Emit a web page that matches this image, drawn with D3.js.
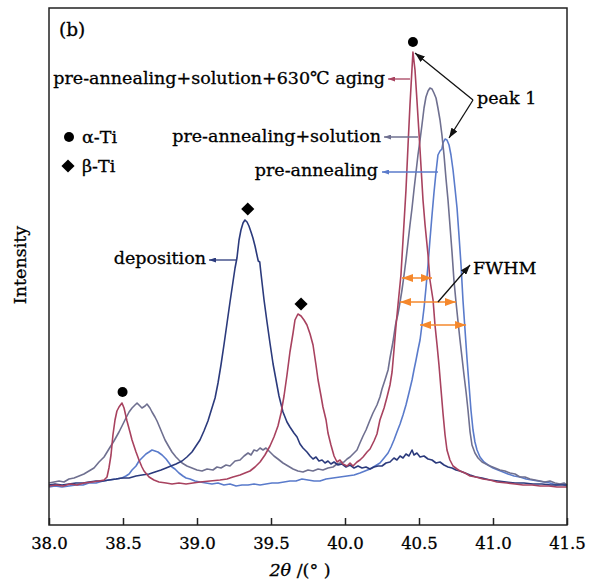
<!DOCTYPE html>
<html>
<head>
<meta charset="utf-8">
<script src="https://cdn.jsdelivr.net/npm/d3@7"></script>
<style>
  body { margin: 0; background: #fff; }
  text { font-family: "DejaVu Serif", serif; fill: #000; stroke: #000; stroke-width: 0.3px; }
</style>
</head>
<body>
<svg id="chart" width="589" height="580"></svg>
<script>
// X-ray diffraction patterns, 2θ (degrees) vs intensity (a.u.)
const xTicks = [38.0, 38.5, 39.0, 39.5, 40.0, 40.5, 41.0, 41.5];

const deposition = [
  [38.000,40],[38.041,41],[38.088,40],[38.135,41],[38.182,42],[38.230,42],[38.270,43],[38.318,44],
  [38.365,44],[38.405,45],[38.453,46],[38.493,47],[38.541,47],[38.588,49],[38.628,50],[38.676,51],
  [38.716,53],[38.757,55],[38.791,57],[38.824,59],[38.858,61],[38.899,64],[38.932,68],[38.966,73],
  [38.993,79],[39.020,85],[39.047,94],[39.074,104],[39.101,117],[39.122,127],[39.142,142],[39.162,160],
  [39.182,180],[39.203,202],[39.223,223],[39.243,243],[39.257,257],[39.270,267],[39.284,285],[39.297,295],
  [39.311,302],[39.324,305],[39.338,303],[39.351,299],[39.365,293],[39.378,287],[39.392,279],[39.405,270],
  [39.414,264],[39.424,263],[39.432,252],[39.453,225],[39.473,203],[39.493,182],[39.514,161],[39.534,145],
  [39.554,129],[39.581,113],[39.608,103],[39.628,98],[39.655,92],[39.676,88],[39.696,81],[39.716,77],
  [39.743,73],[39.764,69],[39.784,66],[39.804,68],[39.824,64],[39.845,65],[39.865,62],[39.885,64],
  [39.905,61],[39.926,63],[39.953,60],[39.980,61],[40.007,58],[40.034,60],[40.061,57],[40.088,59],
  [40.115,57],[40.142,58],[40.169,56],[40.196,58],[40.223,59],[40.250,59],[40.277,62],[40.304,63],
  [40.331,67],[40.351,65],[40.372,69],[40.392,67],[40.412,71],[40.432,69],[40.453,75],[40.466,70],
  [40.486,72],[40.507,68],[40.534,69],[40.561,66],[40.588,65],[40.615,62],[40.642,63],[40.669,60],
  [40.696,58],[40.723,57],[40.750,55],[40.777,54],[40.811,52],[40.845,50],[40.885,48],[40.926,47],
  [40.980,45],[41.034,44],[41.088,43],[41.149,42],[41.209,42],[41.270,41],[41.331,41],[41.392,40],
  [41.453,40],[41.500,40]
];

const preAnnealing = [
  [38.000,38],[38.041,39],[38.088,38],[38.135,39],[38.182,40],[38.230,40],[38.270,42],[38.318,42],
  [38.365,44],[38.405,45],[38.453,46],[38.493,47],[38.520,49],[38.541,51],[38.561,55],[38.588,59],
  [38.608,64],[38.628,67],[38.655,71],[38.676,73],[38.696,75],[38.716,74],[38.736,73],[38.764,70],
  [38.791,66],[38.811,62],[38.831,58],[38.851,56],[38.878,52],[38.905,49],[38.926,47],[38.953,46],
  [38.986,44],[39.020,43],[39.061,42],[39.101,41],[39.142,42],[39.182,40],[39.223,41],[39.264,39],
  [39.304,40],[39.345,40],[39.385,41],[39.426,40],[39.466,41],[39.507,42],[39.547,42],[39.588,43],
  [39.628,44],[39.669,44],[39.709,46],[39.750,45],[39.791,44],[39.831,44],[39.872,46],[39.919,47],
  [39.966,48],[40.014,49],[40.061,50],[40.101,52],[40.135,54],[40.169,56],[40.203,59],[40.236,62],
  [40.264,67],[40.291,72],[40.311,78],[40.331,85],[40.351,93],[40.372,101],[40.392,110],[40.412,120],
  [40.432,132],[40.453,145],[40.466,155],[40.480,165],[40.493,175],[40.507,185],[40.520,200],[40.534,217],
  [40.547,237],[40.561,260],[40.574,285],[40.588,310],[40.601,332],[40.615,353],[40.628,370],[40.642,374],
  [40.655,376],[40.662,382],[40.676,386],[40.689,385],[40.703,380],[40.716,370],[40.730,355],[40.743,337],
  [40.757,317],[40.770,290],[40.784,260],[40.797,225],[40.811,195],[40.824,167],[40.838,140],[40.851,115],
  [40.865,95],[40.878,83],[40.892,75],[40.912,68],[40.939,63],[40.966,60],[41.000,57],[41.034,55],
  [41.068,53],[41.101,51],[41.142,49],[41.182,48],[41.223,46],[41.264,45],[41.304,44],[41.345,43],
  [41.385,42],[41.426,40],[41.466,41],[41.500,39]
];

const preAnnealingSolution = [
  [38.000,42],[38.034,43],[38.068,44],[38.101,43],[38.135,46],[38.169,47],[38.203,49],[38.236,51],
  [38.270,54],[38.304,57],[38.338,63],[38.372,68],[38.405,76],[38.439,84],[38.473,93],[38.500,101],
  [38.520,107],[38.541,113],[38.561,117],[38.581,120],[38.595,122],[38.615,119],[38.628,117],[38.649,119],
  [38.662,121],[38.682,117],[38.696,113],[38.716,108],[38.730,104],[38.750,97],[38.764,92],[38.784,85],
  [38.811,78],[38.831,73],[38.858,68],[38.878,65],[38.899,62],[38.932,59],[38.966,57],[39.000,55],
  [39.034,54],[39.068,56],[39.108,55],[39.135,58],[39.162,57],[39.196,60],[39.223,59],[39.257,64],
  [39.291,65],[39.318,69],[39.345,72],[39.365,70],[39.385,75],[39.405,74],[39.426,77],[39.446,75],
  [39.466,77],[39.493,73],[39.520,69],[39.547,66],[39.581,62],[39.615,59],[39.649,56],[39.682,54],
  [39.716,53],[39.750,55],[39.784,54],[39.818,56],[39.851,55],[39.885,57],[39.919,58],[39.946,61],
  [39.966,62],[39.993,63],[40.014,66],[40.034,68],[40.061,72],[40.081,75],[40.101,82],[40.122,89],
  [40.142,95],[40.169,105],[40.189,112],[40.216,120],[40.236,128],[40.250,136],[40.270,145],[40.291,155],
  [40.304,167],[40.324,183],[40.338,197],[40.345,203],[40.358,211],[40.372,223],[40.385,235],[40.399,250],
  [40.412,265],[40.426,283],[40.439,300],[40.453,317],[40.466,335],[40.480,353],[40.493,370],[40.507,385],
  [40.520,400],[40.534,417],[40.547,428],[40.561,434],[40.574,437],[40.588,436],[40.601,432],[40.615,427],
  [40.628,417],[40.642,405],[40.655,390],[40.669,370],[40.682,347],[40.696,325],[40.709,300],[40.723,273],
  [40.736,245],[40.750,223],[40.764,203],[40.777,185],[40.791,167],[40.804,150],[40.818,133],[40.831,115],
  [40.845,93],[40.858,80],[40.878,72],[40.899,67],[40.926,63],[40.953,61],[40.980,59],[41.014,57],
  [41.047,55],[41.081,54],[41.115,52],[41.149,51],[41.182,48],[41.216,48],[41.250,46],[41.284,45],
  [41.318,44],[41.351,43],[41.385,44],[41.419,42],[41.453,41],[41.480,42],[41.500,40]
];

const aging630 = [
  [38.000,39],[38.047,40],[38.095,39],[38.142,41],[38.189,40],[38.236,42],[38.291,43],[38.338,44],
  [38.372,45],[38.392,48],[38.405,57],[38.419,70],[38.432,90],[38.446,105],[38.459,114],[38.473,118],
  [38.493,122],[38.507,117],[38.527,104],[38.547,93],[38.561,85],[38.588,73],[38.608,65],[38.628,58],
  [38.642,54],[38.676,48],[38.709,45],[38.743,43],[38.791,42],[38.831,41],[38.878,42],[38.926,41],
  [38.973,42],[39.020,43],[39.088,44],[39.155,45],[39.203,46],[39.243,48],[39.291,50],[39.324,52],
  [39.358,54],[39.392,58],[39.426,63],[39.459,70],[39.493,79],[39.520,88],[39.547,99],[39.568,112],
  [39.588,129],[39.608,150],[39.628,173],[39.649,192],[39.662,205],[39.682,211],[39.703,209],[39.723,205],
  [39.743,200],[39.764,191],[39.784,180],[39.804,160],[39.818,145],[39.838,129],[39.851,118],[39.872,105],
  [39.885,92],[39.905,80],[39.926,69],[39.946,63],[39.966,65],[39.986,61],[40.014,59],[40.034,62],
  [40.054,59],[40.081,63],[40.101,65],[40.122,68],[40.149,73],[40.169,76],[40.196,84],[40.216,91],
  [40.236,105],[40.264,117],[40.284,128],[40.304,140],[40.318,153],[40.331,175],[40.345,200],[40.358,220],
  [40.378,250],[40.392,285],[40.412,335],[40.426,380],[40.439,420],[40.453,457],[40.459,473],[40.473,455],
  [40.486,425],[40.507,375],[40.527,325],[40.541,300],[40.561,270],[40.574,245],[40.595,225],[40.608,200],
  [40.622,180],[40.635,160],[40.649,135],[40.662,112],[40.676,90],[40.689,75],[40.709,65],[40.730,59],
  [40.757,56],[40.777,54],[40.811,52],[40.845,49],[40.885,48],[40.932,46],[40.980,45],[41.027,43],
  [41.095,42],[41.149,41],[41.203,40],[41.264,40],[41.318,39],[41.378,39],[41.432,38],[41.500,38]
];

// phase markers: α-Ti (dot) and β-Ti (diamond) above the identified peaks
const alphaPeaks = [[38.497, 133], [40.459, 483]];
const betaPeaks = [[39.343, 316], [39.703, 221]];

const seriesLabels = ["pre-annealing", "pre-annealing+solution", "deposition", "pre-annealing+solution+630℃ aging"];
const seriesColors = ["#5a7bcb", "#6f7090", "#2b3a7c", "#a8425f"];
const seriesData = [preAnnealing, preAnnealingSolution, deposition, aging630];

const svg = d3.select("#chart");
const plot = { left: 49, top: 8, right: 567, bottom: 525 };

const x = d3.scaleLinear().domain([38.0, 41.5]).range([plot.left, plot.right]);
const y = d3.scaleLinear().domain([0, 517]).range([plot.bottom, plot.top]);

// arrowhead markers
const defs = svg.append("defs");
function arrowMarker(id, color, len, wid) {
  defs.append("marker")
    .attr("id", id)
    .attr("viewBox", `0 0 ${len} ${wid}`)
    .attr("refX", len).attr("refY", wid / 2)
    .attr("markerWidth", len).attr("markerHeight", wid)
    .attr("markerUnits", "userSpaceOnUse")
    .attr("orient", "auto-start-reverse")
    .append("path")
    .attr("d", `M0,0L${len},${wid / 2}L0,${wid}Z`)
    .attr("fill", color);
}
seriesColors.forEach((c, i) => arrowMarker("ah" + i, c, 7, 5));
arrowMarker("ahBlack", "#111", 10, 7);
arrowMarker("ahOrange", "#f5882c", 11, 8);

// curves
const line = d3.line().x(d => x(d[0])).y(d => y(d[1]));
svg.append("g").selectAll("path")
  .data(seriesData)
  .join("path")
  .attr("d", line)
  .attr("fill", "none")
  .attr("stroke", (d, i) => seriesColors[i])
  .attr("stroke-width", 1.6)
  .attr("stroke-linejoin", "round");

// frame
svg.append("rect")
  .attr("x", plot.left).attr("y", plot.top)
  .attr("width", plot.right - plot.left).attr("height", plot.bottom - plot.top)
  .attr("fill", "none").attr("stroke", "#222").attr("stroke-width", 1.5);

// bottom axis, ticks pointing inward
const xAxis = d3.axisBottom(x).tickValues(xTicks).tickFormat(d3.format(".1f"))
  .tickSize(-7).tickPadding(12);
const gx = svg.append("g").attr("transform", `translate(0,${plot.bottom})`).call(xAxis);
gx.select(".domain").remove();
gx.selectAll(".tick line").attr("stroke", "#222").attr("stroke-width", 1.5);
gx.selectAll(".tick text").attr("font-family", "DejaVu Serif").attr("font-size", 16.5).attr("fill", "#000");

// axis titles
const xt = svg.append("text").attr("x", 300).attr("y", 576).attr("text-anchor", "middle").attr("font-size", 17.5);
xt.append("tspan").attr("font-style", "italic").text("2θ");
xt.append("tspan").text(" /(°  )");
svg.append("text")
  .attr("transform", "translate(26,265) rotate(-90)")
  .attr("text-anchor", "middle").attr("font-size", 17.5)
  .text("Intensity");

// panel tag
svg.append("text").attr("x", 59).attr("y", 36).attr("font-size", 18.5).text("(b)");

// phase markers
const diamond = d3.symbol().type(d3.symbolDiamond2).size(110);
svg.append("g").selectAll("circle").data(alphaPeaks).join("circle")
  .attr("cx", d => x(d[0])).attr("cy", d => y(d[1])).attr("r", 5).attr("fill", "#000");
svg.append("g").selectAll("path").data(betaPeaks).join("path")
  .attr("d", diamond).attr("transform", d => `translate(${x(d[0])},${y(d[1])})`).attr("fill", "#000");

// legend for phase markers
const legend = svg.append("g");
legend.append("circle").attr("cx", 69).attr("cy", 137).attr("r", 5).attr("fill", "#000");
legend.append("text").attr("x", 82).attr("y", 143).attr("font-size", 17.5).text("α-Ti");
legend.append("path").attr("d", diamond).attr("transform", "translate(68,166)").attr("fill", "#000");
legend.append("text").attr("x", 82).attr("y", 172).attr("font-size", 17.5).text("β-Ti");

// series labels with leader arrows (anchor positions in data units)
const seriesNotes = [
  { s: 3, textX: 40.270, textI: 441, from: 40.439, to: 40.291, lineI: 446 },
  { s: 1, textX: 40.243, textI: 383, from: 40.493, to: 40.264, lineI: 388 },
  { s: 0, textX: 40.223, textI: 349, from: 40.628, to: 40.250, lineI: 353 },
  { s: 2, textX: 39.061, textI: 261, from: 39.264, to: 39.081, lineI: 265 }
];
const notes = svg.append("g");
seriesNotes.forEach(n => {
  notes.append("text").attr("x", x(n.textX)).attr("y", y(n.textI))
    .attr("text-anchor", "end").attr("font-size", 17.5).text(seriesLabels[n.s]);
  notes.append("line")
    .attr("x1", x(n.from)).attr("x2", x(n.to)).attr("y1", y(n.lineI)).attr("y2", y(n.lineI))
    .attr("stroke", seriesColors[n.s]).attr("stroke-width", 1.3)
    .attr("marker-end", `url(#ah${n.s})`);
});

// "peak 1" callout
notes.append("text").attr("x", x(40.892)).attr("y", y(421)).attr("font-size", 17.5).text("peak 1");
[[40.473, 472], [40.703, 387]].forEach(t => {
  notes.append("line")
    .attr("x1", x(40.865)).attr("y1", y(425)).attr("x2", x(t[0])).attr("y2", y(t[1]))
    .attr("stroke", "#111").attr("stroke-width", 1.3).attr("marker-end", "url(#ahBlack)");
});

// FWHM widths
const fwhmBars = [[40.385, 40.588, 247], [40.372, 40.750, 223], [40.507, 40.818, 200]];
notes.append("g").selectAll("line").data(fwhmBars).join("line")
  .attr("x1", d => x(d[0])).attr("x2", d => x(d[1])).attr("y1", d => y(d[2])).attr("y2", d => y(d[2]))
  .attr("stroke", "#f5882c").attr("stroke-width", 1.5)
  .attr("marker-start", "url(#ahOrange)").attr("marker-end", "url(#ahOrange)");
notes.append("text").attr("x", x(40.865)).attr("y", y(251)).attr("font-size", 17.5).text("FWHM");
notes.append("line")
  .attr("x1", x(40.628)).attr("y1", y(223)).attr("x2", x(40.845)).attr("y2", y(260))
  .attr("stroke", "#111").attr("stroke-width", 1.3).attr("marker-end", "url(#ahBlack)");
</script>
</body>
</html>
